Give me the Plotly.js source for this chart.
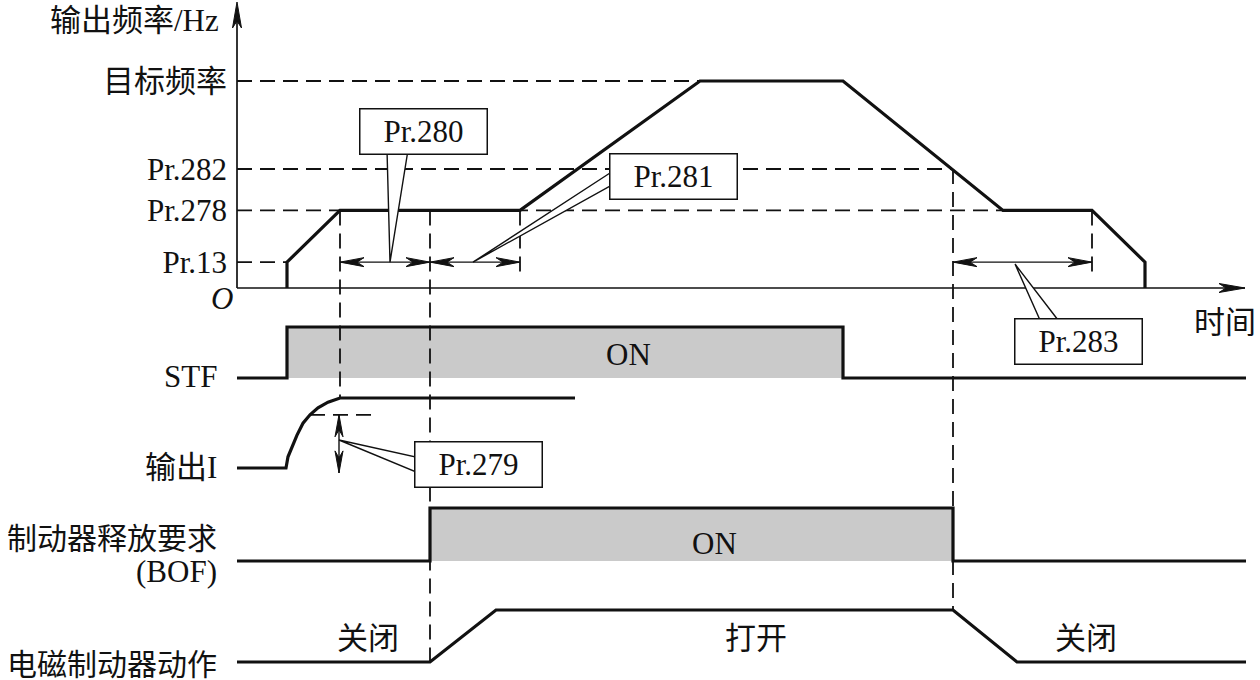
<!DOCTYPE html>
<html><head><meta charset="utf-8">
<script src="https://cdn.plot.ly/plotly-3.0.1.min.js"></script>
<style>html,body{margin:0;padding:0;background:#fff;} #chart{width:1260px;height:680px;}</style>
</head><body><div id="chart"></div>
<script>
// ================= DATA =================
// output-frequency levels (schematic Hz units)
const freqLevelNames  = ['Pr.13', 'Pr.278', 'Pr.282', '目标频率'];
const freqLevelValues = [2.5, 7.5, 11.5, 20];
const freqLevelRefEnd = [50, 766, 715, 463];          // time where dashed reference stops
// output frequency waveform
const freqTime  = [50, 50, 103, 283, 463, 606, 766, 855, 908, 908];
const freqValue = [0, 2.5, 7.5, 7.5, 20, 20, 7.5, 7.5, 2.5, 0];
// STF signal
const stfTime  = [0, 50, 50, 606, 606, 1009];
const stfState = [0, 0, 1, 1, 0, 0];
// output current (normalised)
const curTime  = [0, 49, 51, 55, 60, 66, 73, 81, 91, 103, 338];
const curValue = [0, 0, 0.16, 0.30, 0.47, 0.64, 0.76, 0.86, 0.94, 1, 1];
const curThreshold = 0.76;
// brake opening request (BOF)
const bofTime  = [0, 193, 193, 716, 716, 1009];
const bofState = [0, 0, 1, 1, 0, 0];
// electromagnetic brake action
const brakeTime  = [0, 193, 259, 716, 780, 1009];
const brakeState = [0, 0, 1, 1, 0, 0];
const brakeTexts    = ['关闭', '打开', '关闭'];
const brakeTextTime = [131, 519, 849];
// parameter time intervals
const intervalNames = ['Pr.280', 'Pr.281', 'Pr.283'];
const intervalStart = [103, 193, 716];
const intervalEnd   = [193, 283, 855];
const timeEnd = 1008;

// ================= LAYOUT HELPERS =================
const FREQ_BASE = 288, FREQ_SCALE = 10.35;
const lanes = {stf:{base:378,h:51}, cur:{base:468,h:70}, bof:{base:561,h:53}, brake:{base:662,h:52}};
const yF = f => FREQ_BASE - f * FREQ_SCALE;
const yL = (lane, s) => lanes[lane].base - s * lanes[lane].h;
const FONT = 'Liberation Serif, "Noto Sans CJK SC", serif';
const FS = 31;
const INK = '#111111';
const GRAY = '#cacaca';

const traces = [];
function fillTrace(t, s, lane) {
  const x = t.slice(), y = s.map(v => yL(lane, v));
  traces.push({x, y, mode:'lines', fill:'toself', fillcolor:GRAY, line:{width:0}, hoverinfo:'skip'});
}
fillTrace(stfTime, stfState, 'stf');
fillTrace(bofTime, bofState, 'bof');

// dashed guides
const dx = [], dy = [];
freqLevelValues.forEach((f, i) => { dx.push(0, freqLevelRefEnd[i], null); dy.push(yF(f), yF(f), null); });
const guides = [
  {t:103, a:yF(7.5),  b:yL('cur', 1)},
  {t:193, a:yF(7.5),  b:yL('brake', 0)},
  {t:283, a:yF(7.5),  b:yF(1)},
  {t:716, a:yF(11.5), b:yL('brake', 1)},
  {t:855, a:yF(7.5),  b:yF(1.5)}
];
guides.forEach(g => { dx.push(g.t, g.t, null); dy.push(g.a, g.b, null); });
dx.push(73, 140, null); dy.push(yL('cur', curThreshold), yL('cur', curThreshold), null);
traces.push({x:dx, y:dy, mode:'lines', line:{color:INK, width:1.8, dash:'15px,8px'}, hoverinfo:'skip'});

// axes lines
traces.push({x:[0, 0, null, 0, timeEnd], y:[FREQ_BASE, 8, null, FREQ_BASE, FREQ_BASE],
  mode:'lines', line:{color:INK, width:1.7}, hoverinfo:'skip'});

// interval dimension lines
const ix = [], iy = [];
intervalNames.forEach((n, i) => { ix.push(intervalStart[i], intervalEnd[i], null); iy.push(yF(2.5), yF(2.5), null); });
ix.push(102, 102, null); iy.push(yL('cur', curThreshold), yL('cur', -0.07), null);
traces.push({x:ix, y:iy, mode:'lines', line:{color:INK, width:1.4}, hoverinfo:'skip'});

// signal waveforms
const sig = (x, y) => traces.push({x, y, mode:'lines', line:{color:INK, width:3.2}, hoverinfo:'skip'});
sig(freqTime, freqValue.map(yF));
sig(stfTime, stfState.map(v => yL('stf', v)));
sig(curTime, curValue.map(v => yL('cur', v)));
sig(bofTime, bofState.map(v => yL('bof', v)));
sig(brakeTime, brakeState.map(v => yL('brake', v)));

// arrowheads (stealth shape, px-equivalent units)
const hx = [], hy = [];
function head(tx, ty, ux, uy, L, W, N) {
  const nx = -uy, ny = ux;
  hx.push(tx, tx - L*ux + W*nx, tx - N*ux, tx - L*ux - W*nx, tx, null);
  hy.push(ty, ty - L*uy + W*ny, ty - N*uy, ty - L*uy - W*ny, ty, null);
}
head(0, 2, 0, -1, 26, 4.5, 19);
head(timeEnd, FREQ_BASE, 1, 0, 26, 4.5, 19);
intervalNames.forEach((n, i) => {
  head(intervalStart[i], yF(2.5), -1, 0, 24, 4.5, 17);
  head(intervalEnd[i], yF(2.5), 1, 0, 24, 4.5, 17);
});
head(102, yL('cur', curThreshold), 0, -1, 22, 4, 15);
head(102, yL('cur', -0.07), 0, 1, 22, 4, 15);
traces.push({x:hx, y:hy, mode:'lines', fill:'toself', fillcolor:INK, line:{color:INK, width:1}, hoverinfo:'skip'});

// callout leaders
const wx = [], wy = [];
function wedge(pts) { pts.forEach(p => { wx.push(p[0]); wy.push(p[1]); }); wx.push(pts[0][0], null); wy.push(pts[0][1], null); }
wedge([[150, 150], [153, yF(2.5)], [171, 150]]);
wedge([[373, 173], [236, yF(2.5)], [373, 186]]);
wedge([[102, 440], [179, 457], [179, 472]]);
wedge([[778, 264], [803, 320], [821, 320]]);
traces.push({x:wx, y:wy, mode:'lines', fill:'toself', fillcolor:'#ffffff', line:{color:INK, width:1.4}, hoverinfo:'skip'});

// ================= ANNOTATIONS =================
const ann = [];
function txt(text, x, y, xanchor, size, extra) {
  ann.push(Object.assign({text, x, y, xref:'x', yref:'y', xanchor:xanchor||'center', yanchor:'middle',
    showarrow:false, font:{family:FONT, size:size||FS, color:INK}}, extra||{}));
}
function box(text, x, y) {
  txt(text, x, y, 'center', FS, {bgcolor:'#ffffff', bordercolor:INK, borderwidth:1.5, borderpad:0, width:126, height:44});
}
box(intervalNames[0], 186.5, 131.5);
box(intervalNames[1], 436, 176.5);
box(intervalNames[2], 841, 341.5);
box('Pr.279', 241.5, 464.5);

txt('输出频率/Hz', -16, 20, 'right');
txt('O', -15, 298, 'center', FS, {font:{family:FONT, size:FS, color:INK, style:'italic'}});
txt('时间', 988, 322);
txt('STF', -18, 376, 'right');
txt('输出I', -18, 467, 'right');
txt('制动器释放要求', -18, 538, 'right', 30);
txt('(BOF)', -18, 571, 'right');
txt('电磁制动器动作', -18, 664, 'right', 30);
txt('ON', 391, 354);
txt('ON', 477, 543);
brakeTexts.forEach((t, i) => txt(t, brakeTextTime[i], 638));

const layout = {
  width:1260, height:680, margin:{l:0, r:0, t:0, b:0},
  paper_bgcolor:'#ffffff', plot_bgcolor:'#ffffff', showlegend:false,
  xaxis:{range:[-237, 1023], visible:false, fixedrange:true},
  yaxis:{range:[680, 0], anchor:'free', position:237/1260, side:'left',
    showgrid:false, zeroline:false, showline:false, ticks:'',
    tickvals:freqLevelValues.map(yF), ticktext:freqLevelNames, ticklabelstandoff:10,
    tickfont:{family:FONT, size:FS, color:INK}, fixedrange:true},
  annotations:ann
};
Plotly.newPlot('chart', traces, layout, {staticPlot:true, displayModeBar:false});
</script></body></html>
